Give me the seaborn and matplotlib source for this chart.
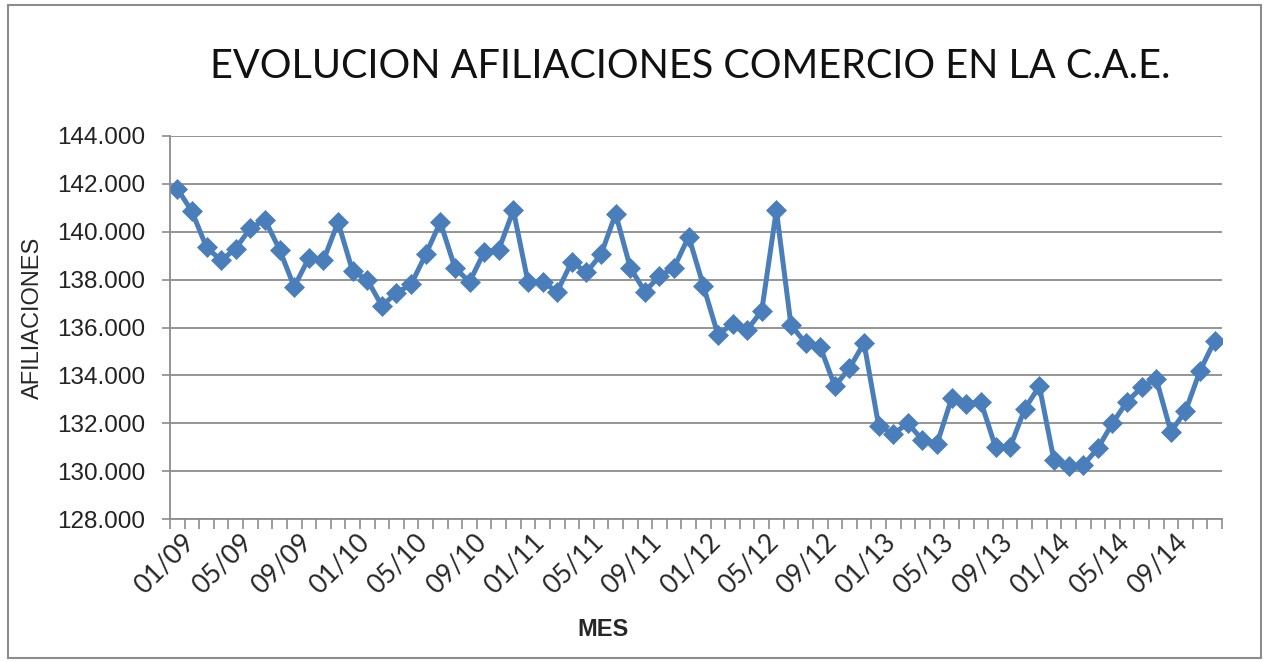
import matplotlib
matplotlib.use("Agg")
import matplotlib.pyplot as plt
import matplotlib.patches as mpatches
import matplotlib.transforms as mtransforms
from matplotlib.ticker import FixedLocator, FuncFormatter
import seaborn as sns
import pandas as pd
import numpy as np

# ---- data ----
years = ["09", "10", "11", "12", "13", "14"]
months = [f"{m:02d}/{y}" for y in years for m in range(1, 13)]

afiliaciones = [
    141800, 140850, 139350, 138800, 139300, 140150, 140500, 139250, 137700, 138900, 138800, 140400,
    138350, 138000, 136900, 137450, 137800, 139050, 140400, 138500, 137900, 139150, 139250, 140900,
    137900, 137900, 137500, 138750, 138300, 139050, 140750, 138500, 137500, 138150, 138500, 139800,
    137750, 135700, 136150, 135900, 136700, 140900, 136100, 135350, 135200, 133550, 134300, 135350,
    131900, 131550, 132000, 131300, 131150, 133050, 132800, 132900, 131000, 131000, 132600, 133550,
    130450, 130200, 130250, 130950, 132000, 132900, 133500, 133850, 131650, 132500, 134200, 135450,
]

tick_labels = ["01/09", "05/09", "09/09", "01/10", "05/10", "09/10", "01/11", "05/11", "09/11",
               "01/12", "05/12", "09/12", "01/13", "05/13", "09/13", "01/14", "05/14", "09/14"]

y_ticks = [128000, 130000, 132000, 134000, 136000, 138000, 140000, 142000, 144000]

title = "EVOLUCION AFILIACIONES COMERCIO EN LA C.A.E."
xlabel = "MES"
ylabel = "AFILIACIONES"

df = pd.DataFrame({"pos": range(len(months)), "mes": months, "afiliaciones": afiliaciones})

# ---- style ----
sns.set_theme(style="white")
plt.rcParams["font.family"] = ["Liberation Sans", "DejaVu Sans"]

W, H = 1266, 662
fig = plt.figure(figsize=(W / 100, H / 100), dpi=100)
fig.patch.set_facecolor("white")

# outer frame
fig.add_artist(mpatches.Rectangle((8 / W, 4 / H), (1261 - 8) / W, (657 - 4) / H,
                                  transform=fig.transFigure, fill=False,
                                  edgecolor="#8c8c8c", linewidth=1.5))

ax = fig.add_axes([170 / W, 1 - 519 / H, (1222 - 170) / W, (519 - 136) / H])

blue = "#4A7EBB"
sns.lineplot(data=df, x="pos", y="afiliaciones", ax=ax, color=blue, linewidth=3.6,
             marker="D", markersize=10.5, markeredgecolor=blue, markeredgewidth=0.5)

ax.set_xlim(-0.5, len(months) - 0.5)
ax.set_ylim(128000, 144000)

grid_c = "#8c8c8c"
ax.set_yticks(y_ticks)
ax.yaxis.set_major_formatter(FuncFormatter(lambda v, p: f"{v:,.0f}".replace(",", ".")))
ax.yaxis.grid(True, color=grid_c, linewidth=1.3)
ax.xaxis.grid(False)

label_pos = [months.index(t) for t in tick_labels]
ax.xaxis.set_major_locator(FixedLocator(label_pos))
ax.xaxis.set_minor_locator(FixedLocator(np.arange(-0.5, len(months), 1.0)))
ax.tick_params(axis="x", which="major", length=0, pad=32)
ax.tick_params(axis="x", which="minor", length=7, width=1.2, color=grid_c, direction="out", bottom=True)
ax.tick_params(axis="y", which="major", length=6, width=1.2, color=grid_c, direction="out",
               left=True, labelsize=17.5, pad=12, labelcolor="#222222")
ax.set_xticklabels(tick_labels, rotation=45, ha="center", va="center", rotation_mode="anchor",
                   fontsize=19, fontfamily="Lato")
offset = mtransforms.ScaledTranslation(-13 / 100, 0, fig.dpi_scale_trans)
for lbl in ax.get_xticklabels():
    lbl.set_fontfamily("Lato")
    lbl.set_transform(lbl.get_transform() + offset)
for lbl in ax.get_yticklabels():
    lbl.set_fontfamily("Liberation Sans")

for s in ["top", "right"]:
    ax.spines[s].set_visible(False)
for s in ["left", "bottom"]:
    ax.spines[s].set_color(grid_c)
    ax.spines[s].set_linewidth(1.3)

ax.set_xlabel("")
ax.set_ylabel("")
fig.text(603 / W, 1 - 630 / H, xlabel, ha="center", va="center", fontsize=17,
         fontweight="bold", family=["Liberation Sans", "DejaVu Sans"])
fig.text(33 / W, 1 - 318 / H, ylabel, ha="center", va="center", rotation=90, fontsize=17,
         family=["Liberation Sans", "DejaVu Sans"])
fig.text(690 / W, 1 - 66 / H, title, ha="center", va="center", fontsize=28.5,
         family=["Lato", "DejaVu Sans"], color="#111111")

fig.savefig("out.png", dpi=100, facecolor="white")
